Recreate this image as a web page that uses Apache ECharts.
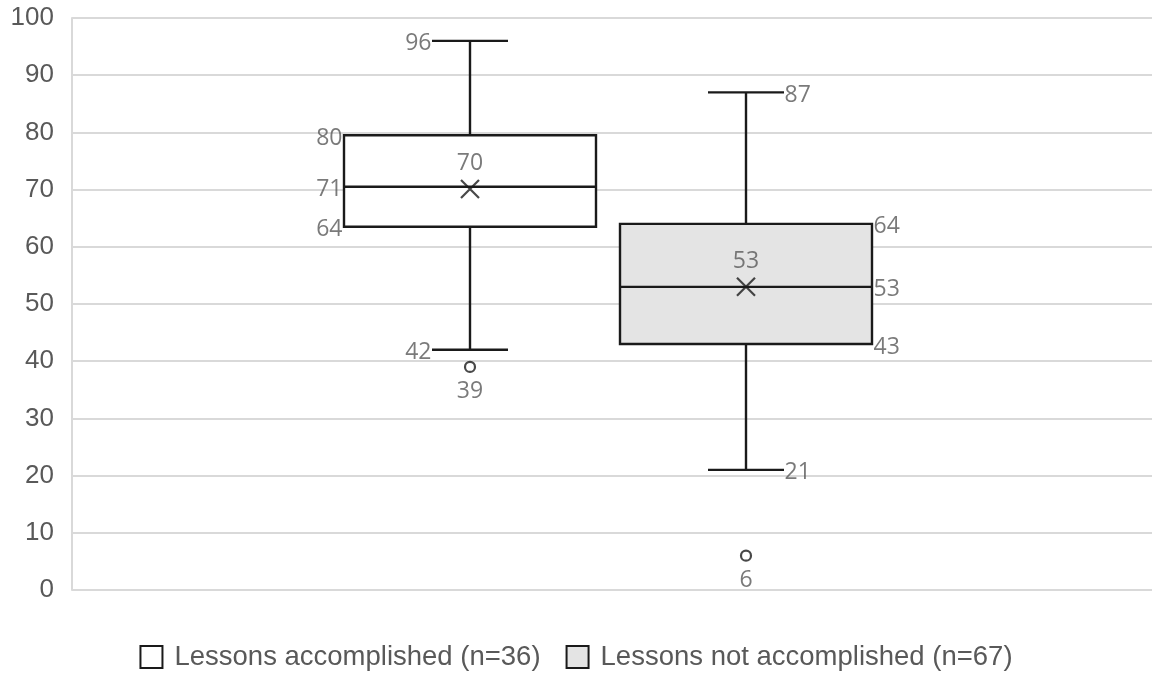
<!DOCTYPE html>
<html>
<head>
<meta charset="utf-8">
<script src="https://cdn.jsdelivr.net/npm/echarts@6/dist/echarts.min.js"></script>
<style>
  html, body { margin: 0; padding: 0; background: #ffffff; }
  #chart { width: 1152px; height: 675px; }
</style>
</head>
<body>
<div id="chart"></div>
<script>
// ---- data ----
const categories = ['Lessons accomplished (n=36)', 'Lessons not accomplished (n=67)'];
const minValues = [42, 21];
const q1Values = [63.5, 43];
const medianValues = [70.5, 53];
const q3Values = [79.5, 64];
const maxValues = [96, 87];
const meanValues = [70.1, 53];
const outlierValues = [[39], [6]];
const yMin = 0, yMax = 100, yInterval = 10;

// ---- styles ----
const fills = ['#ffffff', '#e4e4e4'];
const strokeColor = '#1a1a1a';
const labelColor = '#595959';
const BOX_RATIO = 252 / 276;
const CAP_RATIO = 38 / 126;

const chart = echarts.init(document.getElementById('chart'));

function renderBox(params, api) {
  const x = api.value(0);
  const pMin = api.coord([x, api.value(1)]);
  const pQ1 = api.coord([x, api.value(2)]);
  const pMed = api.coord([x, api.value(3)]);
  const pQ3 = api.coord([x, api.value(4)]);
  const pMax = api.coord([x, api.value(5)]);
  const band = api.size([1, 0])[0];
  const half = band * BOX_RATIO / 2;
  const cap = half * CAP_RATIO;
  const cx = pMed[0];
  const lineStyle = { stroke: strokeColor, lineWidth: 2.4, fill: null };
  const fill = fills[params.seriesIndex];
  return {
    type: 'group',
    children: [
      { type: 'line', shape: { x1: cx, y1: pQ3[1], x2: cx, y2: pMax[1] }, style: lineStyle },
      { type: 'line', shape: { x1: cx - cap, y1: pMax[1], x2: cx + cap, y2: pMax[1] }, style: lineStyle },
      { type: 'line', shape: { x1: cx, y1: pQ1[1], x2: cx, y2: pMin[1] }, style: lineStyle },
      { type: 'line', shape: { x1: cx - cap, y1: pMin[1], x2: cx + cap, y2: pMin[1] }, style: lineStyle },
      { type: 'rect', shape: { x: cx - half, y: pQ3[1], width: half * 2, height: pQ1[1] - pQ3[1] },
        style: { fill: fill, stroke: strokeColor, lineWidth: 2.4 } },
      { type: 'line', shape: { x1: cx - half, y1: pMed[1], x2: cx + half, y2: pMed[1] }, style: lineStyle }
    ]
  };
}

const labelFont = { fontFamily: 'Open Sans', fontSize: 23, color: labelColor, offset: [0, 3] };
const series = [];

categories.forEach((name, i) => {
  series.push({
    name: name,
    type: 'custom',
    xAxisIndex: 1, yAxisIndex: 1,
    renderItem: renderBox,
    itemStyle: { color: fills[i], borderColor: strokeColor, borderWidth: 2 },
    encode: { x: 0, y: [1, 2, 3, 4, 5] },
    data: [[i, minValues[i], q1Values[i], medianValues[i], q3Values[i], maxValues[i]]],
    z: 2
  });
});

categories.forEach((name, i) => {
  const side = i === 0 ? 'left' : 'right';
  // quartile / median labels at box edge
  series.push({
    type: 'scatter', xAxisIndex: 1, yAxisIndex: 1, silent: true, z: 5,
    symbolSize: 1, itemStyle: { color: 'transparent' },
    label: Object.assign({ show: true, position: side, distance: 127,
      formatter: p => Math.round(p.value[1]) }, labelFont),
    data: [[i, q3Values[i]], [i, medianValues[i]], [i, q1Values[i]]]
  });
  // whisker end labels
  series.push({
    type: 'scatter', xAxisIndex: 1, yAxisIndex: 1, silent: true, z: 5,
    symbolSize: 1, itemStyle: { color: 'transparent' },
    label: Object.assign({ show: true, position: side, distance: 38,
      formatter: p => Math.round(p.value[1]) }, labelFont),
    data: [[i, maxValues[i]], [i, minValues[i]]]
  });
  // mean marker
  series.push({
    type: 'scatter', xAxisIndex: 1, yAxisIndex: 1, silent: true, z: 6,
    symbol: 'path://M0,0L10,10M10,0L0,10', symbolSize: 18,
    itemStyle: { color: 'transparent', borderColor: strokeColor, borderWidth: 2.2 },
    label: Object.assign({ show: true, position: 'top', distance: 7,
      formatter: p => Math.round(p.value[1]) }, labelFont),
    data: [[i, meanValues[i]]]
  });
  // outliers
  series.push({
    type: 'scatter', xAxisIndex: 1, yAxisIndex: 1, silent: true, z: 6,
    symbol: 'circle', symbolSize: 10,
    itemStyle: { color: '#ffffff', borderColor: strokeColor, borderWidth: 2.2 },
    label: Object.assign({ show: true, position: 'bottom', distance: 4,
      formatter: p => Math.round(p.value[1]) }, labelFont),
    data: outlierValues[i].map(v => [i, v])
  });
});

const option = {
  backgroundColor: '#ffffff',
  animation: false,
  grid: [
    { left: 72, right: 0, top: 18, bottom: 85 },
    { left: 332, right: 268, top: 18, bottom: 85 }
  ],
  legend: {
    left: 'center', top: 638,
    icon: 'rect', itemWidth: 22, itemHeight: 22, itemGap: 25,
    textStyle: { fontFamily: 'Liberation Sans', fontSize: 27.5, color: labelColor, padding: [0, 0, 0, 7] },
    data: categories.map((name, i) => ({
      name: name,
      itemStyle: { color: fills[i], borderColor: strokeColor, borderWidth: 2 }
    }))
  },
  xAxis: [
    { type: 'category', gridIndex: 0, data: [''], show: false },
    { type: 'category', gridIndex: 1, data: categories, show: false }
  ],
  yAxis: [
    {
      type: 'value', gridIndex: 0, min: yMin, max: yMax, interval: yInterval,
      axisLine: { show: true, lineStyle: { color: '#d9d9d9', width: 2 } },
      axisTick: { show: false },
      splitLine: { show: true, lineStyle: { color: '#d9d9d9', width: 2 } },
      axisLabel: { fontFamily: 'Liberation Sans', fontSize: 26, color: labelColor, margin: 18 }
    },
    { type: 'value', gridIndex: 1, min: yMin, max: yMax, interval: yInterval, show: false,
      splitLine: { show: false } }
  ],
  series: series
};

chart.setOption(option);
</script>
</body>
</html>
